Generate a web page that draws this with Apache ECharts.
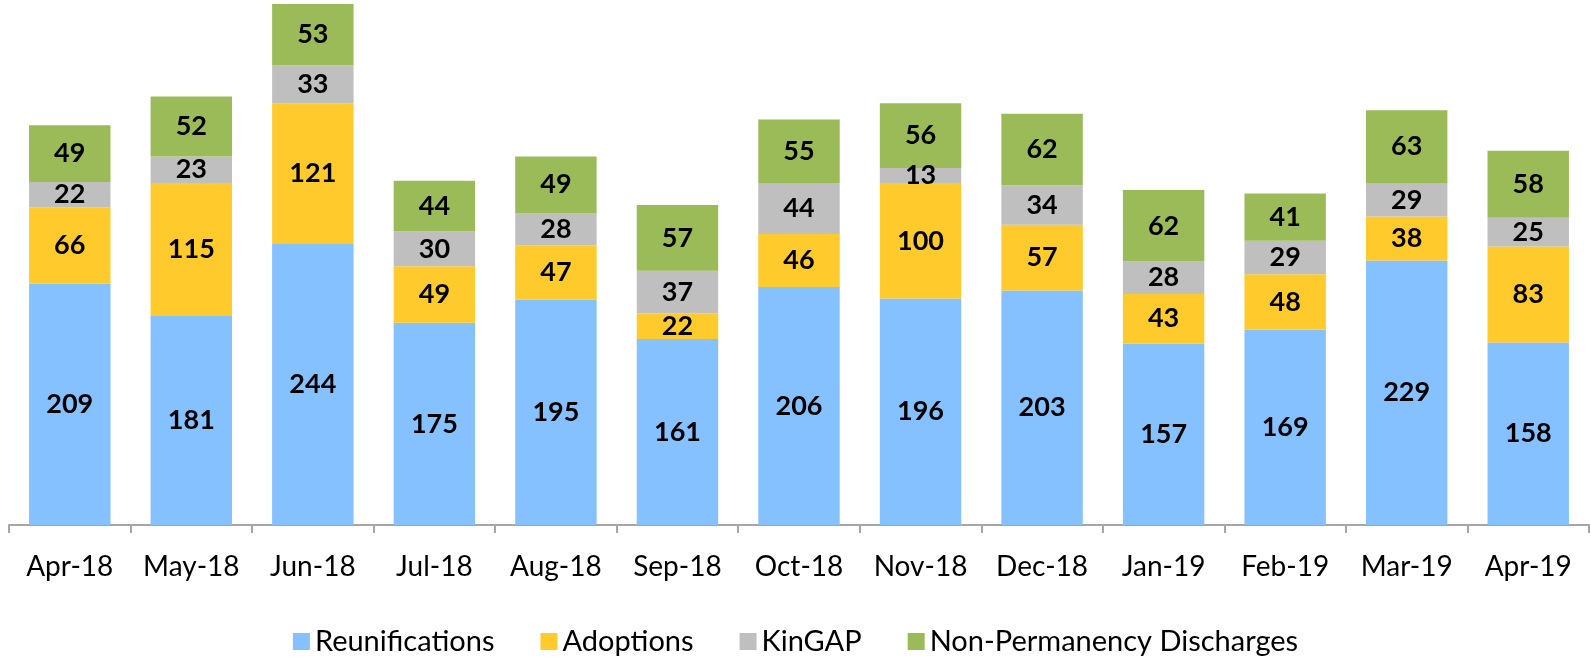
<!DOCTYPE html>
<html><head><meta charset="utf-8">
<script src="https://cdn.jsdelivr.net/npm/echarts@6/dist/echarts.min.js"></script>
<style>html,body{margin:0;padding:0;background:#fff}#c{width:1591px;height:663px}</style>
</head><body><div id="c"></div>
<script>
var categories = ['Apr-18','May-18','Jun-18','Jul-18','Aug-18','Sep-18','Oct-18','Nov-18','Dec-18','Jan-19','Feb-19','Mar-19','Apr-19'];
var reunifications = [209,181,244,175,195,161,206,196,203,157,169,229,158];
var adoptions = [66,115,121,49,47,22,46,100,57,43,48,38,83];
var kingap = [22,23,33,30,28,37,44,13,34,28,29,29,25];
var nonPermanency = [49,52,53,44,49,57,55,56,62,62,41,63,58];

var FONT = 'Lato, "Open Sans", sans-serif';
var totals = categories.map(function(_, i){return reunifications[i]+adoptions[i]+kingap[i]+nonPermanency[i];});
var maxTotal = Math.max.apply(null, totals);

function mk(name, data, color){
  return {name:name, type:'bar', stack:'s', data:data, barCategoryGap:'33%',
    itemStyle:{color:color},
    label:{show:true, position:'inside', color:'#000', fontWeight:'bold', fontSize:27, fontFamily:FONT},
    emphasis:{disabled:true}};
}
var chart = echarts.init(document.getElementById('c'), null, {renderer:'canvas'});
chart.setOption({
  animation:false,
  grid:{left:9, right:2, top:4, bottom:138, containLabel:false},
  legend:{bottom:2, left:'center', itemWidth:17, itemHeight:17, itemGap:46, icon:'rect',
    textStyle:{fontSize:29, fontFamily:FONT, color:'#000', padding:[0,0,0,0]},
    data:['Reunifications','Adoptions','KinGAP','Non-Permanency Discharges']},
  xAxis:{type:'category', data:categories,
    axisLine:{lineStyle:{color:'#A6A6A6', width:2}},
    axisTick:{show:true, length:8, lineStyle:{color:'#A6A6A6', width:2}},
    axisLabel:{interval:0, hideOverlap:false, fontSize:28, fontFamily:FONT, color:'#000', margin:28}},
  yAxis:{type:'value', min:0, max:maxTotal, show:false, splitLine:{show:false}},
  series:[
    mk('Reunifications', reunifications, '#85C1FF'),
    mk('Adoptions', adoptions, '#FFCA2C'),
    mk('KinGAP', kingap, '#BFBFBF'),
    mk('Non-Permanency Discharges', nonPermanency, '#9BBB59')
  ]
});
</script></body></html>
